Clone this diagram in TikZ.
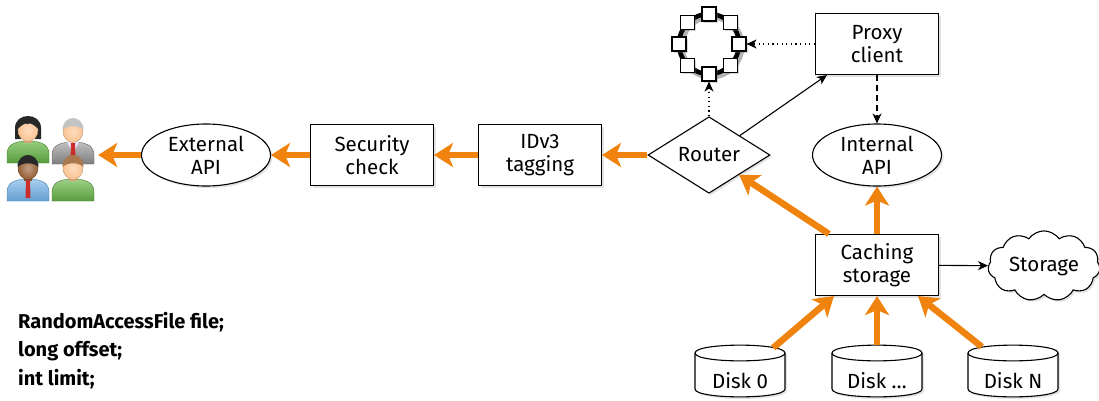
\documentclass[tikz,border=0pt]{standalone}
\usepackage{fontspec}
\setmainfont{Fira Sans}
\usetikzlibrary{shapes.geometric,shapes.symbols,arrows.meta,shadows}

\definecolor{flow}{RGB}{239,131,14}
\definecolor{skinlight}{RGB}{250,196,146}
\definecolor{skindark}{RGB}{150,95,52}
\definecolor{hairblack}{RGB}{40,40,40}
\definecolor{hairgrey}{RGB}{196,196,196}
\definecolor{hairbrown}{RGB}{170,120,78}
\definecolor{shirtgreen}{RGB}{104,184,72}
\definecolor{suitgrey}{RGB}{140,140,140}
\definecolor{shirtblue}{RGB}{110,176,232}
\definecolor{tiered}{RGB}{205,45,40}

% one person of the user group: #1,#2 head centre, #3 skin, #4 shirt (top), #5 shirt (bottom)
\newcommand\figbody[5]{%
  \shade[top color=#4, bottom color=#5, draw=#5!80!black, line width=0.4pt]
    (#1-21,#2+33) -- (#1-21,#2+24) .. controls (#1-21,#2+14) and (#1-12,#2+11) .. (#1,#2+11)
    .. controls (#1+12,#2+11) and (#1+21,#2+14) .. (#1+21,#2+24) -- (#1+21,#2+33) -- cycle;
  \fill[#3!85!black] (#1-4,#2+8) rectangle (#1+4,#2+13);
}
\newcommand\fighead[2]{% #1,#2 head centre, skin colour in \figskin
  \shade[inner color=\figskin!60!white, outer color=\figskin, draw=\figskin!75!black, line width=0.4pt]
    (#1,#2) ellipse[x radius=10, y radius=11.5];
}
\newcommand\figfringe[3]{% short hair
  \fill[#3] (#1-10.5,#2-1) .. controls (#1-10.5,#2-17) and (#1+10.5,#2-17) .. (#1+10.5,#2-1)
    .. controls (#1+5,#2-6) and (#1-5,#2-6) .. cycle;
}
\newcommand\figtie[2]{%
  \fill[tiered] (#1-2,#2+12) -- (#1+2,#2+12) -- (#1+2.5,#2+30) -- (#1-2.5,#2+30) -- cycle;
}

\tikzset{
  shape base/.style={draw, line width=1.1pt, fill=white, align=center, inner sep=0pt,
    drop shadow={opacity=0.22, shadow xshift=2pt, shadow yshift=-2pt}},
  stepbox/.style={shape base, rectangle, minimum width=123pt, minimum height=61pt},
  apinode/.style={shape base, ellipse, minimum width=129pt, minimum height=62pt},
  gate/.style={shape base, diamond, minimum width=122pt, minimum height=62pt},
  cloudnode/.style={shape base, cloud, cloud puffs=11, cloud puff arc=110, aspect=1.7,
    minimum width=112pt, minimum height=64pt},
  ringsq/.style={draw, line width=1.1pt, fill=white, rectangle, minimum size=14pt, inner sep=0pt},
  diskbox/.style={rectangle, minimum width=90pt, minimum height=52pt, inner sep=0pt},
  flowarrow/.style={draw=flow, line width=6.5pt,
    -{Stealth[length=19pt, width=24pt, inset=5pt, fill=flow]}},
  link/.style={draw=black, line width=1.1pt, -{Stealth[length=10pt, width=9pt, inset=3pt]}},
  dotlink/.style={link, dash pattern=on 1.1pt off 3.5pt},
  dashlink/.style={link, dash pattern=on 6pt off 4pt},
  fieldline/.style={anchor=base west, inner sep=0pt, font=\bfseries\fontsize{20}{24}\selectfont},
}

% cylinder outline for a disk centred at x = #1
\newcommand\diskdraw[1]{%
  \draw[line width=1.1pt, fill=white, drop shadow={opacity=0.22, shadow xshift=2pt, shadow yshift=-2pt}]
    (#1-45,353) -- (#1-45,389) .. controls (#1-45,399.5) and (#1+45,399.5) .. (#1+45,389)
    -- (#1+45,353) .. controls (#1+45,342.5) and (#1-45,342.5) .. cycle;
  \draw[line width=1.1pt] (#1-45,353) .. controls (#1-45,363.5) and (#1+45,363.5) .. (#1+45,353);
}

\begin{document}
\begin{tikzpicture}[x=1pt, y=-1pt, font=\fontsize{20.5}{23}\selectfont]
\useasboundingbox (0,0) rectangle (1099,400);

% --- user group ---
\node[rectangle, minimum width=90pt, minimum height=94pt, inner sep=0pt] (users) at (53,155) {};
% woman, top left
\fill[hairblack] (28-13,130+9) -- (28-13,130-2) .. controls (28-13,130-18) and (28+13,130-18) .. (28+13,130-2)
  -- (28+13,130+9) -- (28+7,130+9) -- (28+7,130) -- (28-7,130) -- (28-7,130+9) -- cycle;
\figbody{28}{130}{skinlight}{shirtgreen!70!white}{shirtgreen!85!black}
\def\figskin{skinlight}\fighead{28}{130}
\fill[hairblack] (28-10.5,130-1) .. controls (28-10.5,130-17) and (28+10.5,130-17) .. (28+10.5,130-1)
  .. controls (28+6,130-5) and (28+2,130-8) .. (28,130-6) .. controls (28-3,130-8) and (28-7,130-4) .. cycle;
% older man, top right
\figbody{73}{131}{skinlight}{suitgrey!55!white}{suitgrey!90!black}
\fill[white!90!blue] (73-6,131+11) -- (73+6,131+11) -- (73,131+22) -- cycle;
\figtie{73}{131}
\def\figskin{skinlight}\fighead{73}{131}
\figfringe{73}{131}{hairgrey}
% man, bottom left
\figbody{28}{168}{skindark}{shirtblue!60!white}{shirtblue!90!black}
\figtie{28}{168}
\def\figskin{skindark}\fighead{28}{168}
\figfringe{28}{168}{hairblack}
% young man, bottom right
\figbody{73}{168}{skinlight}{shirtgreen!65!white}{shirtgreen!85!black}
\def\figskin{skinlight}\fighead{73}{168}
\figfringe{73}{168}{hairbrown}

% --- processing chain ---
\node[apinode] (ext) at (206,155) {External\\API};
\node[stepbox] (sec) at (372,155) {Security\\check};
\node[stepbox] (tag) at (540,155) {IDv3\\tagging};
\node[gate] (rt) at (709,155) {Router};
\node[stepbox] (pc) at (877,44) {Proxy\\client};
\node[apinode] (int) at (877,155) {Internal\\API};
\node[stepbox] (cs) at (877,265) {Caching\\storage};
\node[cloudnode] (st) at (1044,266) {Storage};

% --- ring of peers ---
\draw[black, opacity=0.3, line width=7pt] (711,46) circle[radius=30];
\node[circle, draw=black, line width=4.5pt, minimum size=60pt, outer sep=0pt, inner sep=0pt] (ring) at (709,44) {};
\foreach \a in {0,45,...,315}
  \node[ringsq, drop shadow={opacity=0.3, shadow xshift=1.5pt, shadow yshift=-1.5pt}] (sq\a) at (ring.\a) {};

% --- disks ---
\diskdraw{740}
\diskdraw{877}
\diskdraw{1013}
\node[diskbox] (d0) at (740,371) {};
\node[diskbox] (d1) at (877,371) {};
\node[diskbox] (dn) at (1013,371) {};
\node (d0t) at (740,381) {Disk 0};
\node (d1t) at (877,381) {Disk \dots};
\node (dnt) at (1013,381) {Disk N};

% --- field list ---
\node[fieldline] (f1) at (18,328) {RandomAccessFile file;};
\node[fieldline] (f2) at (18,356.5) {long offset;};
\node[fieldline] (f3) at (18,385) {int limit;};

% --- data flow ---
\draw[flowarrow] (rt) -- (tag);
\draw[flowarrow] (tag) -- (sec);
\draw[flowarrow] (sec) -- (ext);
\draw[flowarrow] (ext) -- (users);
\draw[flowarrow] ([xshift=14pt]cs.north west) -- (rt);
\draw[flowarrow] (cs) -- (int);
\draw[flowarrow] ([xshift=-12pt, yshift=-3pt]d0.north east) -- ([xshift=19pt]cs.south west);
\draw[flowarrow] (d1.north) -- (cs.south);
\draw[flowarrow] ([xshift=14pt, yshift=-2pt]dn.north west) -- ([xshift=-21pt]cs.south east);

% --- control links ---
\draw[link] (rt.north east) -- ([xshift=12pt]pc.south west);
\draw[dotlink] (pc) -- (sq0);
\draw[dotlink] (rt) -- (sq270);
\draw[dashlink] (pc) -- (int);
\draw[link] (cs) -- (st);
\end{tikzpicture}
\end{document}
